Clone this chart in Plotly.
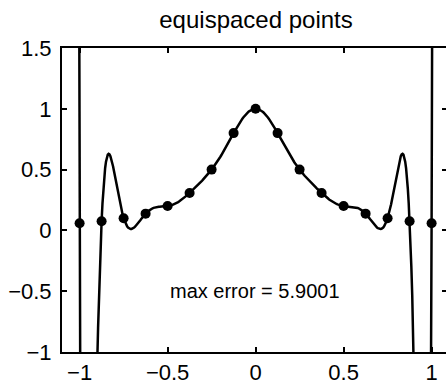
import numpy as np
import plotly.graph_objects as go

# ---- data ----
x_nodes = [-1.0, -0.875, -0.75, -0.625, -0.5, -0.375, -0.25, -0.125, 0.0,
           0.125, 0.25, 0.375, 0.5, 0.625, 0.75, 0.875, 1.0]
u_nodes = [0.058824, 0.075472, 0.1, 0.137931, 0.2, 0.307692, 0.5, 0.8, 1.0,
           0.8, 0.5, 0.307692, 0.2, 0.137931, 0.1, 0.075472, 0.058824]
x_tick_vals = [-1, -0.5, 0, 0.5, 1]
x_tick_text = ["\u22121", "\u22120.5", "0", "0.5", "1"]
y_tick_vals = [-1, -0.5, 0, 0.5, 1, 1.5]
y_tick_text = ["\u22121", "\u22120.5", "0", "0.5", "1", "1.5"]
title_text = "equispaced points"
max_error = "5.9001"

# degree-16 polynomial interpolant through the nodes, evaluated on [-1.01, 1.01]
deg = len(x_nodes) - 1
coeffs = np.polyfit(np.array(x_nodes), np.array(u_nodes), deg)
xx = np.arange(-1.01, 1.01 + 1e-9, 0.005)
pp = np.polyval(coeffs, xx)

FONT = "Liberation Sans, Arial, Helvetica, sans-serif"

fig = go.Figure()
fig.add_trace(go.Scatter(x=xx, y=pp, mode="lines",
                         line=dict(color="black", width=2.5),
                         showlegend=False, hoverinfo="skip"))
fig.add_trace(go.Scatter(x=x_nodes, y=u_nodes, mode="markers",
                         marker=dict(color="black", size=10),
                         showlegend=False, cliponaxis=True))
# invisible trace on right axis to enable its ticks
fig.add_trace(go.Scatter(x=[0], y=[0], yaxis="y2", mode="markers",
                         marker=dict(opacity=0), showlegend=False, hoverinfo="skip"))

fig.update_layout(
    width=446, height=385,
    margin=dict(l=62, r=0, t=48, b=31),
    paper_bgcolor="white", plot_bgcolor="white",
    font=dict(family=FONT, color="black", size=22),
    title=dict(text=title_text, x=256 / 446, xref="container", xanchor="center",
               y=1 - 20 / 385, yref="container", yanchor="middle",
               font=dict(size=24, family=FONT, color="black")),
    xaxis=dict(range=[-1.1, 1.0818], tickvals=x_tick_vals, ticktext=x_tick_text,
               showgrid=False, zeroline=False, showline=True, linecolor="black",
               linewidth=2, mirror="ticks", ticks="inside", ticklen=5,
               tickcolor="black", tickwidth=1.5, tickfont=dict(size=22)),
    yaxis=dict(range=[-1, 1.5], tickvals=y_tick_vals, ticktext=y_tick_text,
               showgrid=False, zeroline=False, showline=True, linecolor="black",
               linewidth=2, mirror=False, ticks="inside", ticklen=5,
               tickcolor="black", tickwidth=1.5, tickfont=dict(size=22),
               ticklabelstandoff=4),
    yaxis2=dict(range=[-1, 1.5], tickvals=y_tick_vals, overlaying="y", side="right",
                showgrid=False, zeroline=False, showline=False, ticks="inside",
                ticklen=4, tickcolor="black", tickwidth=1.5, showticklabels=False),
    annotations=[dict(x=-0.5, y=-0.5, xref="x", yref="y", text="max error = " + max_error,
                      showarrow=False, xanchor="left", yanchor="middle",
                      font=dict(size=20, family=FONT, color="black"))],
)

fig.write_html("out.html")
